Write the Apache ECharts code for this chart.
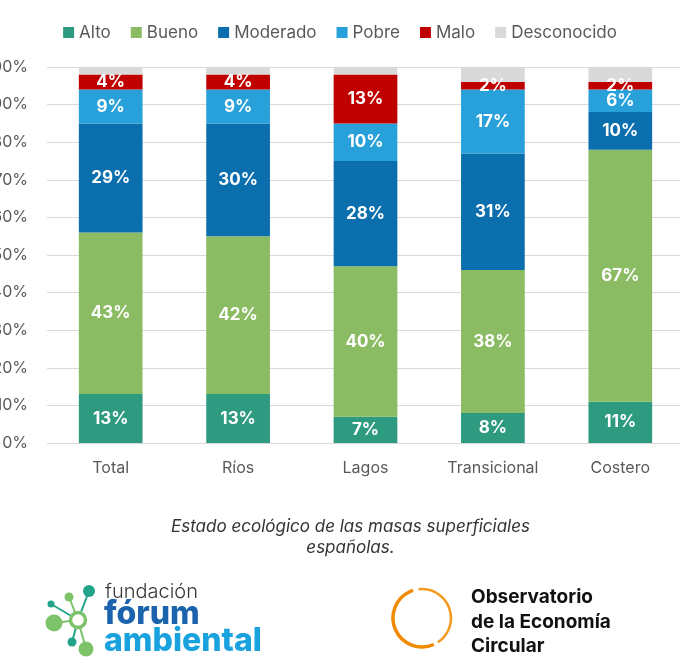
<!DOCTYPE html>
<html>
<head>
<meta charset="utf-8">
<script src="https://cdn.jsdelivr.net/npm/echarts@6/dist/echarts.min.js"></script>
<style>
  html, body { margin: 0; padding: 0; background: #ffffff; }
  #chart { width: 680px; height: 667px; }
</style>
</head>
<body>
<div id="chart"></div>
<script>
// estado ecológico — barras apiladas al 100%

var categories = ['Total', 'Ríos', 'Lagos', 'Transicional', 'Costero'];
var seriesNames = ['Alto', 'Bueno', 'Moderado', 'Pobre', 'Malo', 'Desconocido'];
var alto        = [13, 13, 7, 8, 11];
var bueno       = [43, 42, 40, 38, 67];
var moderado    = [29, 30, 28, 31, 10];
var pobre       = [9, 9, 10, 17, 6];
var malo        = [4, 4, 13, 2, 2];
var desconocido = [2, 2, 2, 4, 4];
var yTicks = [0, 10, 20, 30, 40, 50, 60, 70, 80, 90, 100];

var colors = ['#2E9A80', '#8BBB63', '#0B6FAD', '#28A0DA', '#C00000', '#D9D9D9'];
var FONT = 'Inter, "Noto Sans", sans-serif';

var chart = echarts.init(document.getElementById('chart'));

function makeSeries(name, data, idx) {
    return {
        name: name,
        type: 'bar',
        stack: 'total',
        data: data,
        barWidth: '50%',
        itemStyle: { color: colors[idx] },
        label: {
            show: name !== 'Desconocido',
            position: 'inside',
            color: '#ffffff',
            fontFamily: FONT,
            fontWeight: 'bold',
            fontSize: 17,
            formatter: '{c}%'
        },
        emphasis: { disabled: true }
    };
}

var allData = [alto, bueno, moderado, pobre, malo, desconocido];
var series = seriesNames.map(function(n, i) { return makeSeries(n, allData[i], i); });

// logo: moléculas de fórum ambiental
var green = '#7CC36A';
var teal = '#22A38A';
var ringC = [78, 620];
var nodes = [
    { p: [89, 591], r: 6, c: teal },
    { p: [51, 604], r: 3.5, c: teal },
    { p: [69, 597], r: 4.5, c: green },
    { p: [54, 623], r: 8.5, c: green },
    { p: [72, 642], r: 4.5, c: teal },
    { p: [86, 649], r: 7.5, c: green }
];
var graphics = [];
nodes.forEach(function(n) {
    graphics.push({
        type: 'line',
        shape: { x1: ringC[0], y1: ringC[1], x2: n.p[0], y2: n.p[1] },
        style: { stroke: n.c, lineWidth: 2 },
        silent: true
    });
});
nodes.forEach(function(n) {
    graphics.push({
        type: 'circle',
        shape: { cx: n.p[0], cy: n.p[1], r: n.r },
        style: { fill: n.c },
        silent: true
    });
});
graphics.push({
    type: 'circle',
    shape: { cx: ringC[0], cy: ringC[1], r: 7.5 },
    style: { fill: '#ffffff', stroke: green, lineWidth: 3.5 },
    silent: true
});
graphics.push(
    { type: 'text', left: 105, top: 582, style: { text: 'fundación', fontFamily: FONT, fontWeight: 300, fontSize: 20, fill: '#3a3a3a' } },
    { type: 'text', left: 104, top: 598, style: { text: 'fórum', fontFamily: FONT, fontWeight: 800, fontSize: 32, fill: '#1B63AC' } },
    { type: 'text', left: 104, top: 625, style: { text: 'ambiental', fontFamily: FONT, fontWeight: 800, fontSize: 32, fill: '#1AA2DF' } }
);

// logo: observatorio
var deg = Math.PI / 180;
graphics.push(
    { type: 'arc', shape: { cx: 422, cy: 618, r: 29, startAngle: -97 * deg, endAngle: 57 * deg, clockwise: true },
      style: { stroke: '#F39A1E', lineWidth: 2.5, fill: null }, silent: true },
    { type: 'arc', shape: { cx: 422, cy: 618, r: 29, startAngle: 66 * deg, endAngle: 252 * deg, clockwise: true },
      style: { stroke: '#F08A00', lineWidth: 3.5, fill: null }, silent: true },
    { type: 'text', left: 471, top: 588, style: { text: 'Observatorio', fontFamily: FONT, fontWeight: 'bold', fontSize: 19, fill: '#111111' } },
    { type: 'text', left: 471, top: 613, style: { text: 'de la Economía', fontFamily: FONT, fontWeight: 'bold', fontSize: 19, fill: '#111111' } },
    { type: 'text', left: 471, top: 637, style: { text: 'Circular', fontFamily: FONT, fontWeight: 'bold', fontSize: 19, fill: '#111111' } }
);

// pie de figura
graphics.push({
    type: 'text',
    left: 171,
    top: 516,
    style: {
        text: 'Estado ecológico de las masas superficiales\nespañolas.',
        textAlign: 'center',
        fontFamily: FONT,
        fontStyle: 'italic',
        fontSize: 17,
        lineHeight: 21,
        fill: '#333333'
    }
});

var option = {
    backgroundColor: '#ffffff',
    animation: false,
    legend: {
        data: seriesNames,
        top: 19,
        left: 'center',
        itemWidth: 11,
        itemHeight: 11,
        itemGap: 20,
        icon: 'rect',
        textStyle: { color: '#595959', fontFamily: FONT, fontSize: 17 }
    },
    grid: {
        left: 47,
        right: -4,
        top: 67,
        height: 376,
        containLabel: false,
        outerBoundsMode: 'none'
    },
    xAxis: {
        type: 'category',
        data: categories,
        axisLine: { show: false },
        axisTick: { show: false },
        axisLabel: { color: '#595959', fontFamily: FONT, fontSize: 16, margin: 17 }
    },
    yAxis: {
        type: 'value',
        min: yTicks[0],
        max: yTicks[yTicks.length - 1],
        interval: 10,
        axisLine: { show: false },
        axisTick: { show: false },
        axisLabel: {
            color: '#595959',
            fontFamily: FONT,
            fontSize: 16,
            margin: 19,
            formatter: '{value}%'
        },
        splitLine: { lineStyle: { color: '#D9D9D9', width: 1 } }
    },
    graphic: graphics,
    series: series
};

chart.setOption(option);
</script>
</body>
</html>
